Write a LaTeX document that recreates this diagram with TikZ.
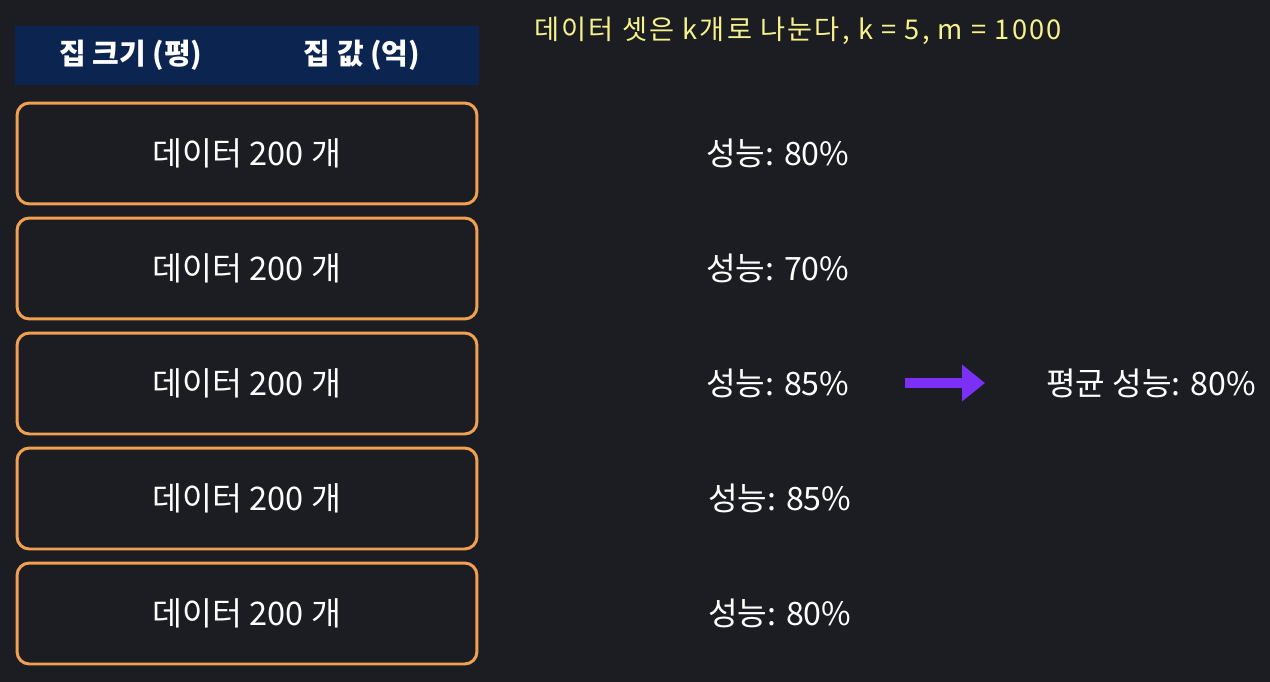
\documentclass[tikz,border=0pt]{standalone}
\usepackage{fontspec}
\setmainfont{Noto Sans CJK KR}
\newfontfamily\notefont[LetterSpace=8]{Noto Sans CJK KR}
\usetikzlibrary{arrows.meta}
\definecolor{bg_dark}{HTML}{1B1D22}
\definecolor{hd_navy}{HTML}{0C2550}
\definecolor{box_orange}{HTML}{F0A050}
\definecolor{note_yellow}{HTML}{F7F28C}
\definecolor{arr_purple}{HTML}{7B2FF7}
\tikzstyle{hd}=[rectangle,fill=hd_navy,minimum width=9.28cm,minimum height=1.18cm,inner sep=0pt]
\tikzstyle{ht}=[text=white,font=\fontsize{16.5}{18}\selectfont\bfseries]
\tikzstyle{db}=[rectangle,rounded corners=7pt,draw=box_orange,line width=1.7pt,
  fill=bg_dark,minimum width=9.2cm,minimum height=2.02cm,text=white,
  font=\fontsize{18.5}{20}\selectfont]
\tikzstyle{sc}=[anchor=west,text=white,inner sep=0pt,font=\fontsize{18.3}{20}\selectfont]
\tikzstyle{nt}=[anchor=west,text=note_yellow,inner sep=0pt,font=\notefont\fontsize{15.5}{17}\selectfont]
\tikzstyle{none}=[]

\begin{document}
\begin{tikzpicture}[x=0.02cm, y=-0.02cm]
    \fill [bg_dark] (0, 0) rectangle (1270, 682);
    \useasboundingbox (0, 0) rectangle (1270, 682);
            \node [style=hd] (0) at (247, 55.5) {};
            \node [style=ht] (1) at (131, 55) {집 크기 (평)};
            \node [style=ht] (2) at (362, 55) {집 값 (억)};
            \node [style=nt] (3) at (534, 31) {데이터 셋은 k개로 나눈다, k = 5, m = 1000};
            \node [style=db] (4) at (247, 153.5) {데이터 200 개};
            \node [style=db] (5) at (247, 268.5) {데이터 200 개};
            \node [style=db] (6) at (247, 383.5) {데이터 200 개};
            \node [style=db] (7) at (247, 498.5) {데이터 200 개};
            \node [style=db] (8) at (247, 613.5) {데이터 200 개};
            \node [style=sc] (9) at (706, 153) {성능: 80\%};
            \node [style=sc] (10) at (706, 268) {성능: 70\%};
            \node [style=sc] (11) at (706, 383) {성능: 85\%};
            \node [style=sc] (12) at (708, 498) {성능: 85\%};
            \node [style=sc] (13) at (708, 613) {성능: 80\%};
            \node [style=sc] (14) at (1046, 383) {평균 성능: 80\%};
            \draw [draw=arr_purple, line width=5.7pt, shorten <=1.1cm, shorten >=1.22cm,
              -{Triangle[length=13pt, width=20pt]}] (11) to (14);
    \end{tikzpicture}
\end{document}
